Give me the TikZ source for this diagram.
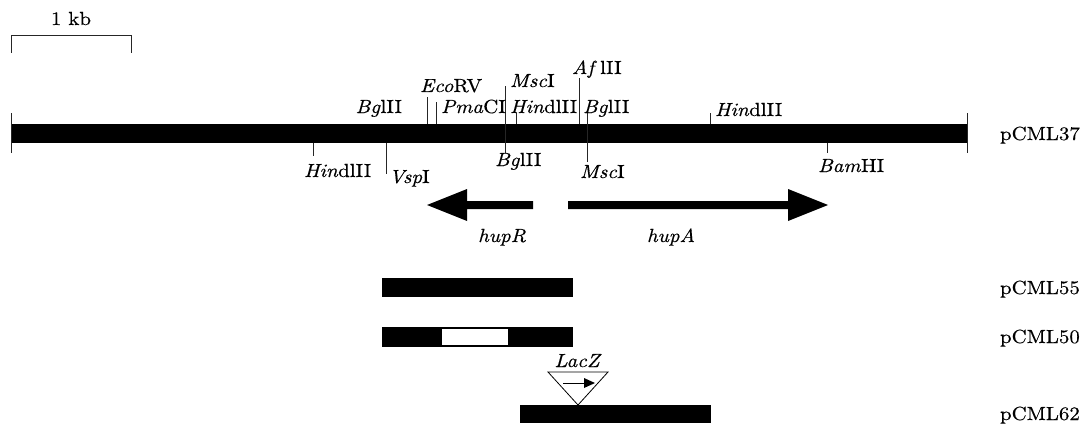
\documentclass[tikz,border=0pt]{standalone}
\usepackage{fontspec}
\setmainfont{lmroman10-regular.otf}[ItalicFont=lmroman10-italic.otf, FakeStretch=1.1, FakeBold=0.4]
\begin{document}
\begin{tikzpicture}[x=1pt,y=-1pt,
  lab/.style={inner sep=0pt, outer sep=0pt, font=\fontsize{19}{21}\selectfont},
  site/.style={line width=0.9pt, draw=black!85},
  seg/.style={fill=black, draw=none},
  gene/.style={fill=black, draw=none}]
\useasboundingbox (0,0) rectangle (1089,428);
% scale bar
\draw[site] (11,53) -- (11,35) -- (131,35) -- (131,53);
\node[lab, anchor=base] (kb) at (71,25) {1 kb};
% main map
\fill[seg] (11,124) rectangle (967,143);
\draw[site] (11,113) -- (11,153);
\draw[site] (967,113) -- (967,153);
\node[lab, anchor=base west] (p37) at (1000,140) {pCML37};
% upper sites
\draw[site] (427,97) -- (427,124);
\draw[site] (436,102) -- (436,124);
\draw[site] (505,86) -- (505,153);
\draw[site] (516,113) -- (516,124);
\draw[site] (579,78) -- (579,124);
\draw[site] (587,113) -- (587,162);
\draw[site] (710,113) -- (710,124);
\node[lab, anchor=base east] (u1) at (402,113) {\textit{Bg}lII};
\node[lab, anchor=base west] (u2) at (420,92) {\textit{Eco}RV};
\node[lab, anchor=base west] (u3) at (441,113) {\textit{Pma}CI};
\node[lab, anchor=base west] (u4) at (510,87) {\textit{Msc}I};
\node[lab, anchor=base west] (u5) at (510,113) {\textit{Hin}dlII};
\node[lab, anchor=base west] (u6) at (572,74) {\textit{Af}\,lII};
\node[lab, anchor=base west] (u7) at (583,113) {\textit{Bg}lII};
\node[lab, anchor=base west] (u8) at (715,116) {\textit{Hin}dlII};
% lower sites
\draw[site] (313,143) -- (313,156);
\draw[site] (386,143) -- (386,174);
\draw[site] (827,143) -- (827,153);
\node[lab, anchor=base west] (l1) at (304,177) {\textit{Hin}dlII};
\node[lab, anchor=base west] (l2) at (389,183) {\textit{Vsp}I};
\node[lab, anchor=base west] (l3) at (495,166) {\textit{Bg}lII};
\node[lab, anchor=base west] (l4) at (580,178) {\textit{Msc}I};
\node[lab, anchor=base west] (l5) at (818,172) {\textit{Bam}HI};
% genes
\fill[gene] (533,201) -- (467,201) -- (467,189) -- (427,205) -- (467,221) -- (467,209) -- (533,209) -- cycle;
\fill[gene] (568,201) -- (788,201) -- (788,189) -- (828,205) -- (788,221) -- (788,209) -- (568,209) -- cycle;
\node[lab, anchor=base] (hupR) at (502,242) {\textit{hupR}};
\node[lab, anchor=base] (hupA) at (671,242) {\textit{hupA}};
% constructs
\fill[seg] (382,278) rectangle (573,297);
\node[lab, anchor=base west] (p55) at (1000,294) {pCML55};
\fill[seg] (382,327) rectangle (573,347);
\fill[white] (442,329) rectangle (508,345);
\node[lab, anchor=base west] (p50) at (1000,343) {pCML50};
\fill[seg] (520,405) rectangle (711,423);
\node[lab, anchor=base west] (p62) at (1000,420) {pCML62};
% LacZ insertion
\draw[line width=0.8pt, fill=white] (548,372) -- (608,372) -- (578,405) -- cycle;
\coordinate (la) at (563,383);
\coordinate (lb) at (584,383);
\coordinate (lt) at (595,383);
\draw[line width=1pt] (la) -- (lb);
\fill (lb) ++(0,-5) -- (lt) -- (584,388) -- cycle;
\node[lab, anchor=base] (lacz) at (578,367) {\textit{LacZ}};
\end{tikzpicture}
\end{document}
